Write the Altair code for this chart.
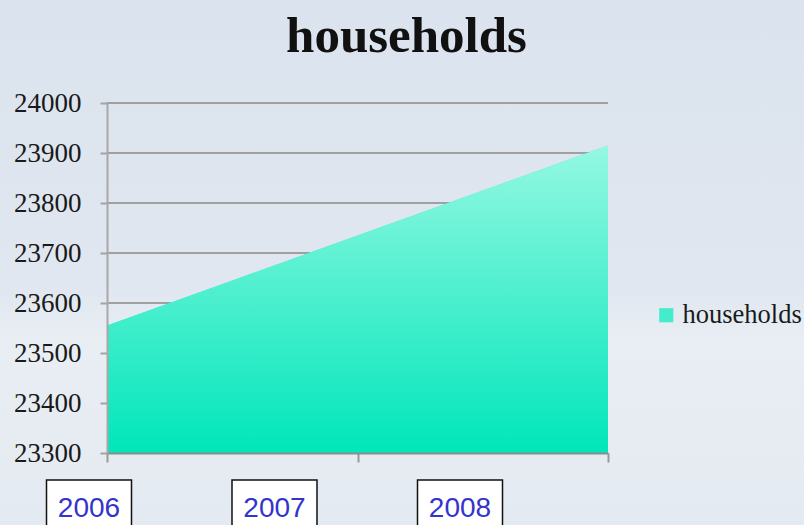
import altair as alt
import pandas as pd

years = ["2006", "2007", "2008"]
households = [23555, 23735, 23915]
series = ["households"] * 3
y_ticks = [23300, 23400, 23500, 23600, 23700, 23800, 23900, 24000]
y_min, y_max = 23300, 24000

df = pd.DataFrame({"year": years, "households": households, "series": series})
grid_df = pd.DataFrame({"tick": y_ticks})
base = alt.Chart(df)

W, H = 501, 350

background = base.mark_rect(
    clip=False,
    color=alt.Gradient(
        gradient="linear",
        stops=[
            alt.GradientStop(color="#dbe3ee", offset=0),
            alt.GradientStop(color="#e0e7f0", offset=0.55),
            alt.GradientStop(color="#e9eef4", offset=0.65),
            alt.GradientStop(color="#e4eaf1", offset=1),
        ],
        x1=0, x2=0, y1=0, y2=1,
    ),
).encode(x=alt.value(-107), x2=alt.value(697), y=alt.value(-103), y2=alt.value(422))

y_scale = alt.Scale(domain=[y_min, y_max], nice=False, zero=False)
y_axis = alt.Axis(
    title=None, values=y_ticks, format="d", grid=False,
    domainColor="#a8a8a8", domainWidth=2, tickColor="#a3a3a3",
    tickWidth=2, tickSize=7, labelFont="Liberation Serif", labelFontSize=27,
    labelColor="#1a1a1a", labelPadding=19, zindex=2,
)

gridlines = alt.Chart(grid_df).mark_rule(color="#a0a0a0", strokeWidth=2).encode(
    y=alt.Y("tick:Q", scale=y_scale, axis=y_axis),
    x=alt.value(0), x2=alt.value(W),
)

x_enc = alt.X(
    "year:O",
    scale=alt.Scale(type="point", padding=0),
    axis=alt.Axis(
        title=None, labels=False, grid=False, domainColor="#8c8c8c", domainWidth=2,
        tickColor="#9a9a9a", tickWidth=2, tickSize=9, zindex=2,
    ),
)
y_enc = alt.Y("households:Q", scale=y_scale, axis=y_axis)

legend_area = base.mark_area(opacity=1).encode(
    x=alt.X("year:O", scale=alt.Scale(type="point", padding=0), axis=None),
    y=y_enc,
    y2=alt.datum(y_min),
    color=alt.Color(
        "series:N",
        scale=alt.Scale(range=["#45eccb"]),
        legend=alt.Legend(
            title=None, orient="none", legendX=546, legendY=199,
            symbolType="square", symbolSize=200, symbolStrokeWidth=0,
            labelFont="Liberation Serif", labelFontSize=26.5, labelColor="#1a1a1a",
            labelOffset=3,
        ),
    ),
)

area = base.mark_area(
    color=alt.Gradient(
        gradient="linear",
        stops=[
            alt.GradientStop(color="#95f8e2", offset=0),
            alt.GradientStop(color="#00e6ba", offset=1),
        ],
        x1=1, x2=1, y1=0, y2=1,
    )
).encode(x=x_enc, y=y_enc, y2=alt.datum(y_min))

label_x = alt.X("year:O", scale=alt.Scale(type="point", padding=0, range=[-18, 353]), axis=None)

boxes = base.mark_rect(
    fill="white", stroke="#111111", strokeWidth=1.5, width=85, clip=False
).encode(x=label_x, y=alt.value(377), y2=alt.value(440))

labels = base.mark_text(
    font="Liberation Sans", fontSize=28, color="#3434cc", baseline="middle", align="center"
).encode(x=label_x, y=alt.value(406), text="year:N")

chart = (
    alt.layer(background, gridlines, legend_area, area, boxes, labels)
    .resolve_scale(x="independent")
    .properties(
        width=W,
        height=H,
        autosize=alt.AutoSizeParams(type="none"),
        padding={"left": 107, "top": 103, "right": 196, "bottom": 72},
        title=alt.Title(
            "households", font="Liberation Serif", fontSize=51, fontWeight="bold",
            color="#111111", anchor="middle", dx=49, offset=-103, baseline="alphabetic",
            frame="group",
        ),
    )
    .configure_view(stroke=None)
    .configure(background="#dfe6ef")
)

chart.save("out.html", embed_options={"renderer": "svg", "actions": False})
